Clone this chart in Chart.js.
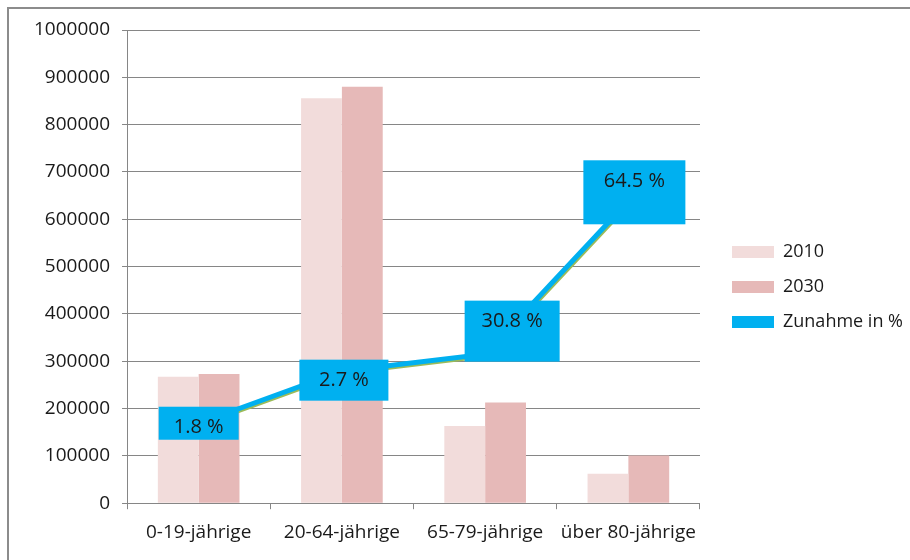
<!DOCTYPE html>
<html>
<head>
<meta charset="utf-8">
<script src="https://cdn.jsdelivr.net/npm/chart.js@4.4.1/dist/chart.umd.min.js"></script>
<style>
    body { margin: 0; background: #fff; }
    #wrap { position: absolute; left: 0; top: 0; width: 910px; height: 560px; }
    #frame { position: absolute; left: 7px; top: 7px; width: 1000px; height: 1000px;
             border-left: 2px solid #8c8c8c; border-top: 2px solid #8c8c8c; }
</style>
</head>
<body>
<div id="wrap">
    <div id="frame"></div>
    <canvas id="chart" width="910" height="560"></canvas>
</div>
<script>
const categories = ['0-19-jährige', '20-64-jährige', '65-79-jährige', 'über 80-jährige'];
const pop2010 = [267000, 856000, 163000, 62000];
const pop2030 = [273000, 880000, 213000, 101000];
const zunahmeLine = [169000, 279000, 315000, 638000];
const zunahmeLabels = ['1.8 %', '2.7 %', '30.8 %', '64.5 %'];

const FONT = 'Open Sans';

// boxes around the percentage labels: offset from the point and size
const labelBoxes = [
    { dx: 0, dy: 0, w: 80, h: 33 },
    { dx: 2, dy: 9, w: 89, h: 41 },
    { dx: 27, dy: -23, w: 95, h: 61 },
    { dx: 6, dy: -9, w: 102, h: 64 }
];

const lineShadow = {
    id: 'lineShadow',
    beforeDatasetDraw(chart, args) {
        if (args.meta.type !== 'line') return;
        const ctx = chart.ctx;
        ctx.save();
        ctx.shadowColor = '#9bbb59';
        ctx.shadowOffsetX = 1;
        ctx.shadowOffsetY = 1.5;
    },
    afterDatasetDraw(chart, args) {
        if (args.meta.type !== 'line') return;
        chart.ctx.restore();
    }
};

// nudge the legend to the right / up without touching the plot area
const legendShift = {
    id: 'legendShift',
    afterLayout(chart) {
        const lg = chart.legend;
        lg.left += 15; lg.right += 15;
        lg.top -= 6; lg.bottom -= 6;
    }
};

const boxLabels = {
    id: 'boxLabels',
    afterDatasetsDraw(chart) {
        const ctx = chart.ctx;
        const meta = chart.getDatasetMeta(2);
        ctx.save();
        meta.data.forEach((pt, i) => {
            const b = labelBoxes[i];
            const cx = pt.x + b.dx;
            const cy = pt.y + b.dy;
            const left = cx - b.w / 2;
            const top = cy - b.h / 2;
            ctx.fillStyle = '#00b0f0';
            ctx.fillRect(left, top, b.w, b.h);
            ctx.fillStyle = '#1a1a1a';
            ctx.font = '20px "' + FONT + '"';
            ctx.textAlign = 'center';
            ctx.textBaseline = 'middle';
            ctx.fillText(zunahmeLabels[i], cx, top + 21);
        });
        ctx.restore();
    }
};

new Chart(document.getElementById('chart'), {
    type: 'bar',
    data: {
        labels: categories,
        datasets: [{
            label: '2010',
            data: pop2010,
            backgroundColor: '#f2dcdb',
            order: 1
        }, {
            label: '2030',
            data: pop2030,
            backgroundColor: '#e6b9b8',
            order: 1
        }, {
            type: 'line',
            label: 'Zunahme in %',
            data: zunahmeLine,
            borderColor: '#00b0f0',
            backgroundColor: '#00b0f0',
            borderWidth: 5,
            pointRadius: 0,
            tension: 0,
            order: 0
        }]
    },
    options: {
        responsive: false,
        animation: false,
        layout: { padding: { left: 22, top: 30, right: 12, bottom: 4 } },
        datasets: {
            bar: { barPercentage: 1, categoryPercentage: 0.57 }
        },
        scales: {
            x: {
                offset: true,
                grid: { offset: true, drawOnChartArea: false, color: '#868686', tickLength: 6 },
                border: { color: '#868686' },
                ticks: { color: '#1a1a1a', font: { family: FONT, size: 19 }, padding: 12 }
            },
            y: {
                min: 0,
                max: 1000000,
                grid: { color: '#868686', tickLength: 5 },
                border: { color: '#868686' },
                ticks: {
                    stepSize: 100000,
                    color: '#1a1a1a',
                    font: { family: FONT, size: 19 },
                    padding: 12,
                    callback: v => String(v)
                }
            }
        },
        plugins: {
            tooltip: { enabled: false },
            legend: {
                position: 'right',
                labels: {
                    boxWidth: 42,
                    boxHeight: 12,
                    padding: 17,
                    color: '#1a1a1a',
                    font: { family: FONT, size: 18 },
                    sort: (a, b) => a.datasetIndex - b.datasetIndex,
                    generateLabels(chart) {
                        const items = Chart.defaults.plugins.legend.labels.generateLabels(chart);
                        items.forEach(it => { it.lineWidth = 0; });
                        return items;
                    }
                }
            }
        }
    },
    plugins: [lineShadow, legendShift, boxLabels]
});
</script>
</body>
</html>
